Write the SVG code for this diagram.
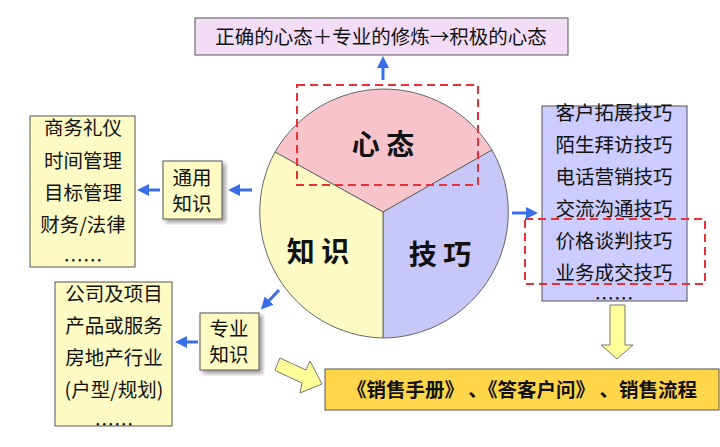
<svg xmlns="http://www.w3.org/2000/svg" width="720" height="447" viewBox="0 0 720 447">
<defs>
<style>
text{font-family:"Noto Sans CJK SC","Liberation Sans",sans-serif;fill:#111}
.t{font-size:19.5px;text-anchor:middle}
.big{font-size:28px;text-anchor:middle;font-weight:bold}
.box{stroke:#555;stroke-width:1}
.dash{fill:none;stroke:#e8303a;stroke-width:2;stroke-dasharray:8,5}
.arr{stroke:#3a6ee8;stroke-width:3;fill:none;marker-end:url(#ah)}
.fat{fill:#ffff99;stroke:#777;stroke-width:1}
</style>
<marker id="ah" markerWidth="4" markerHeight="4" refX="2" refY="2" orient="auto"><path d="M0,0L4,2L0,4z" fill="#3a6ee8"/></marker>
<filter id="sh"><feDropShadow dx="3" dy="3" stdDeviation="2" flood-opacity="0.4"/></filter>
</defs>
<rect width="720" height="447" fill="#fff"/>
<g id="top"><rect x="195" y="18" width="373" height="37" fill="#f3dcf6" class="box"/><text class="t" x="381" y="44">正确的心态＋专业的修炼→积极的心态</text></g>
<g id="pie">
<path d="M383,212L275,152A126,126 0 0 1 492,150Z" fill="#f8c4cc" stroke="#666"/>
<path d="M383,212L492,150A126,126 0 0 1 383,338Z" fill="#c8c8f8" stroke="#666"/>
<path d="M383,212L383,338A126,126 0 0 1 275,152Z" fill="#fdfac4" stroke="#666"/>
<text class="big" x="383" y="155">心 态</text>
<text class="big" x="318" y="262">知 识</text>
<text class="big" x="440" y="265">技 巧</text>
</g>
<g id="left1"><rect x="30" y="116" width="105" height="151" fill="#fdfac4" class="box"/>
<text class="t" x="83" y="135">商务礼仪</text><text class="t" x="83" y="168">时间管理</text><text class="t" x="83" y="200">目标管理</text><text class="t" x="83" y="232">财务/法律</text><text class="t" x="83" y="268">……</text></g>
<g id="tongyong"><rect x="163" y="161" width="59" height="58" fill="#fdfac4" class="box" filter="url(#sh)"/><text class="t" x="192" y="185">通用</text><text class="t" x="192" y="211">知识</text></g>
<g id="left2"><rect x="55" y="282" width="117" height="144" fill="#fdfac4" class="box"/>
<text class="t" x="114" y="301">公司及项目</text><text class="t" x="114" y="333">产品或服务</text><text class="t" x="114" y="365">房地产行业</text><text class="t" x="114" y="397">(户型/规划)</text><text class="t" x="114" y="432">……</text></g>
<g id="zhuanye"><rect x="200" y="313" width="59" height="57" fill="#fdfac4" class="box" filter="url(#sh)"/><text class="t" x="229" y="336">专业</text><text class="t" x="229" y="362">知识</text></g>
<g id="right"><rect x="542" y="106" width="145" height="195" fill="#ccccff" class="box"/>
<text class="t" x="614" y="120">客户拓展技巧</text><text class="t" x="614" y="152">陌生拜访技巧</text><text class="t" x="614" y="184">电话营销技巧</text><text class="t" x="614" y="216">交流沟通技巧</text><text class="t" x="614" y="248">价格谈判技巧</text><text class="t" x="614" y="280">业务成交技巧</text><text class="t" x="614" y="306">……</text></g>
<g id="bottom"><rect x="325" y="369" width="394" height="41" fill="#ffd64a" class="box"/><text class="t" x="522" y="397" font-weight="bold">《销售手册》 、《答客户问》 、销售流程</text></g>
<g id="highlights"><rect x="297" y="85" width="181" height="100" class="dash"/><rect x="525" y="219" width="180" height="65" class="dash"/></g>
<g id="connectors">
<line x1="383" y1="80" x2="383" y2="62" class="arr"/>
<line x1="252" y1="190" x2="234" y2="190" class="arr"/>
<line x1="160" y1="190" x2="143" y2="190" class="arr"/>
<line x1="279" y1="290" x2="265" y2="305" class="arr"/>
<line x1="198" y1="342" x2="181" y2="342" class="arr"/>
<line x1="512" y1="213" x2="532" y2="213" class="arr"/>
<path class="fat" d="M275,370L280,358L306,370L310,361L322,384L300,393L302,383L276,371Z"/>
<path class="fat" d="M610,305L625,305L625,345L633,345L617,359L601,345L610,345Z"/>
</g>
</svg>
